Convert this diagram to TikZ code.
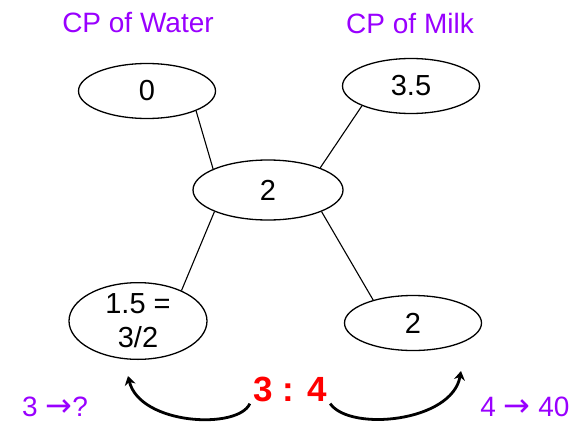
\documentclass[tikz,border=0pt]{standalone}
\usepackage{fontspec}
\setmainfont{Liberation Sans}
\newfontfamily\arrowfont{DejaVu Sans}
\usetikzlibrary{shapes.geometric,arrows.meta}
\definecolor{cpviolet}{HTML}{9900FF}
\definecolor{ratiored}{HTML}{FF0000}
\newcommand{\goesto}{{\arrowfont\fontsize{32}{28}\selectfont →}}
\begin{document}
\begin{tikzpicture}[x=1pt,y=-1pt,
  cp/.style={ellipse,draw,line width=1.3pt,inner sep=0pt,align=center,
    font=\fontsize{29}{34}\selectfont},
  head/.style={text=cpviolet,font=\fontsize{28}{32}\selectfont},
  side/.style={text=cpviolet,inner sep=0pt,font=\fontsize{28}{28}\selectfont},
  turn/.style={line width=2.8pt,-{Stealth[length=9pt,width=11pt]}}]
\useasboundingbox (0,0) rectangle (575,423);

%两种成分的价格
\node[head] (water) at (138,23) {CP of Water};
\node[head] (milk) at (410,23) {CP of Milk};

%五个椭圆
\node[cp,minimum width=137pt,minimum height=55pt] (zero) at (147,91) {0};
\node[cp,minimum width=137pt,minimum height=55pt] (high) at (411,86) {3.5};
\node[cp,minimum width=150pt,minimum height=60pt] (mean) at (268,190) {2};
\node[cp,minimum width=138pt,minimum height=72pt] (left) at (138,321) {1.5 =\\3/2};
\node[cp,minimum width=137pt,minimum height=55pt] (right) at (413,323) {2};

%交叉连线
\draw[line width=1.1pt] (zero.-22) -- (mean.159);
\draw[line width=1.1pt] (high.-158) -- (mean.23);
\draw[line width=1.1pt] (mean.-158) -- (left.35);
\draw[line width=1.1pt] (mean.-22) -- (right.150);

%比例与弯箭头
\node[text=ratiored,font=\fontsize{35}{38}\selectfont\bfseries] (ratio) at (290,389) {3 : 4};
\node[side] (lhs) at (55,407) {3 \goesto?};
\node[side] (rhs) at (525,407) {4 \goesto\ 40};
\coordinate (ltip) at (128,376);
\coordinate (rtip) at (461,371);
\draw[turn] (ratio.200) .. controls (238,430) and (140,425) .. (ltip);
\draw[turn] (ratio.-20) .. controls (350,432) and (452,422) .. (rtip);

\end{tikzpicture}
\end{document}
